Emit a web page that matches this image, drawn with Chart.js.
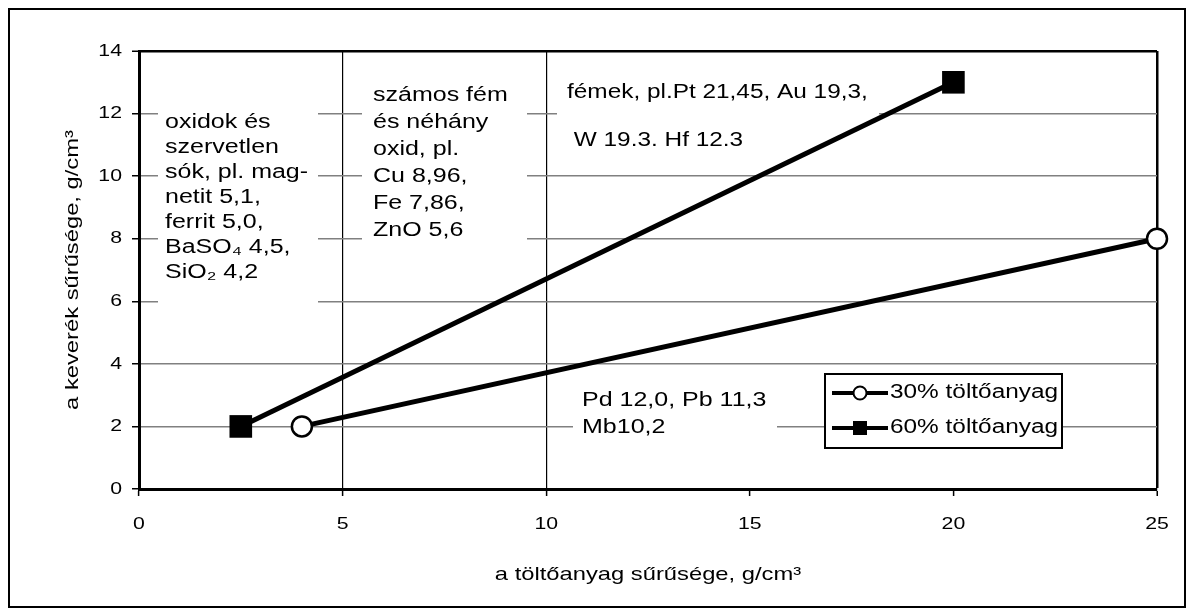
<!DOCTYPE html>
<html>
<head>
<meta charset="utf-8">
<script src="https://cdn.jsdelivr.net/npm/chart.js@4.4.1/dist/chart.umd.min.js"></script>
<style>
    body { margin: 0; background: #fff; }
    canvas { display: block; }
</style>
</head>
<body>
<canvas id="myChart" width="1192" height="616"></canvas>
<script>
/*********************** Data ************************/
var seriesNames = ['30% töltőanyag', '60% töltőanyag'];
var filler30X = [4, 25];
var filler30Y = [2, 8];
var filler60X = [2.5, 20];
var filler60Y = [2, 13];
var xTitle = 'a töltőanyag sűrűsége, g/cm³';
var yTitle = 'a keverék sűrűsége, g/cm³';
var noteOxides = ['oxidok és', 'szervetlen', 'sók, pl. mag-', 'netit 5,1,', 'ferrit 5,0,', 'BaSO₄ 4,5,', 'SiO₂ 4,2'];
var noteMetalOxides = ['számos fém', 'és néhány', 'oxid, pl.', 'Cu 8,96,', 'Fe 7,86,', 'ZnO 5,6'];
var noteMetals = ['fémek, pl.Pt 21,45, Au 19,3,', ' W 19.3. Hf 12.3'];
var notePd = ['Pd 12,0, Pb 11,3', 'Mb10,2'];

function toPoints(xs, ys) {
    return xs.map(function (x, i) { return { x: x, y: ys[i] }; });
}

/*********************** Canvas ************************/
var canvas = document.getElementById('myChart');
var ctx = canvas.getContext('2d');

// the original text is set in a wider face, so stretch every label a bit
var textStretch = 1.25;
var plainFillText = ctx.fillText;
ctx.fillText = function (text, x, y, maxWidth) {
    this.save();
    this.translate(x, y);
    this.scale(textStretch, 1);
    if (maxWidth !== undefined) {
        plainFillText.call(this, text, 0, 0, maxWidth / textStretch);
    } else {
        plainFillText.call(this, text, 0, 0);
    }
    this.restore();
};

var FONT = 'Liberation Sans, Arial, sans-serif';

// white boxes behind the notes, then the notes and the legend
var notes = [
    { lines: noteOxides, box: [158, 100, 160, 208], x: 165, y: 122, step: 25, size: 20 },
    { lines: noteMetalOxides, box: [362, 80, 165, 172], x: 373, y: 95, step: 27, size: 20 },
    { lines: noteMetals, box: [557, 78, 322, 82], x: 567, y: 93, step: 48, size: 19.5 },
    { lines: notePd, box: [573, 385, 204, 60], x: 582, y: 400, step: 27, size: 20 }
];

var notesPlugin = {
    id: 'notes',
    beforeDraw: function (chart) {
        var c = chart.ctx;
        c.save();
        c.fillStyle = '#fff';
        c.fillRect(0, 0, chart.width, chart.height);
        c.restore();
    },
    beforeDatasetsDraw: function (chart) {
        var c = chart.ctx;
        c.save();
        c.fillStyle = '#fff';
        notes.forEach(function (n) {
            c.fillRect(n.box[0], n.box[1], n.box[2], n.box[3]);
        });
        c.restore();
    },
    afterDatasetsDraw: function (chart) {
        var c = chart.ctx;
        c.save();
        c.fillStyle = '#000';
        c.textAlign = 'left';
        c.textBaseline = 'middle';
        notes.forEach(function (n) {
            c.font = n.size + 'px ' + FONT;
            n.lines.forEach(function (line, i) {
                c.fillText(line, n.x, n.y + i * n.step);
            });
        });
        c.restore();
    },
    afterDraw: function (chart) {
        var c = chart.ctx;
        c.save();

        // legend
        var lx = 825, ly = 374, lw = 237, lh = 74;
        c.fillStyle = '#fff';
        c.fillRect(lx, ly, lw, lh);
        c.strokeStyle = '#000';
        c.lineWidth = 2;
        c.strokeRect(lx, ly, lw, lh);
        var rows = [393, 428];
        chart.data.datasets.forEach(function (ds, i) {
            var y = rows[i];
            c.strokeStyle = ds.borderColor;
            c.lineWidth = 4;
            c.beginPath();
            c.moveTo(832, y);
            c.lineTo(888, y);
            c.stroke();
            if (ds.pointStyle === 'rect') {
                c.fillStyle = ds.pointBackgroundColor;
                c.fillRect(853, y - 7, 14, 14);
            } else {
                c.beginPath();
                c.arc(860, y, 6.5, 0, Math.PI * 2);
                c.fillStyle = ds.pointBackgroundColor;
                c.fill();
                c.lineWidth = 2;
                c.stroke();
            }
            c.fillStyle = '#000';
            c.font = '19.5px ' + FONT;
            c.textAlign = 'left';
            c.textBaseline = 'middle';
            c.fillText(ds.label, 890, y);
        });

        // outer frame
        c.strokeStyle = '#000';
        c.lineWidth = 2;
        c.strokeRect(9, 9, 1176, 598);
        c.restore();
    }
};

/*********************** Chart ************************/
var mixData = {
    datasets: [{
        label: seriesNames[0],
        data: toPoints(filler30X, filler30Y),
        showLine: true,
        borderColor: '#000',
        borderWidth: 5,
        pointStyle: 'circle',
        pointRadius: 10,
        pointHoverRadius: 10,
        pointBorderWidth: 2.5,
        pointBorderColor: '#000',
        pointBackgroundColor: '#fff',
        clip: false
    }, {
        label: seriesNames[1],
        data: toPoints(filler60X, filler60Y),
        showLine: true,
        borderColor: '#000',
        borderWidth: 5,
        pointStyle: 'rect',
        pointRadius: 16,
        pointHoverRadius: 16,
        pointBorderWidth: 0,
        pointBorderColor: '#000',
        pointBackgroundColor: '#000',
        clip: false
    }]
};

var myChart = new Chart(ctx, {
    type: 'scatter',
    data: mixData,
    plugins: [notesPlugin],
    options: {
        responsive: false,
        animation: false,
        events: [],
        layout: { padding: { left: 0, top: 51, right: 35, bottom: 0 } },
        plugins: {
            legend: { display: false },
            tooltip: { enabled: false }
        },
        scales: {
            x: {
                type: 'linear',
                min: 0,
                max: 25,
                ticks: {
                    stepSize: 5,
                    color: '#000',
                    padding: 18,
                    font: { family: FONT, size: 17 }
                },
                grid: {
                    color: function (c) {
                        var v = c.tick ? c.tick.value : null;
                        return (v === 5 || v === 10 || v === 25) ? '#000' : 'rgba(0,0,0,0)';
                    },
                    lineWidth: function (c) {
                        return c.tick && c.tick.value === 25 ? 2.5 : 1.2;
                    },
                    tickColor: '#000',
                    tickLength: 7,
                    tickWidth: 1.5
                },
                border: { color: '#000', width: 3 },
                title: {
                    display: true,
                    text: xTitle,
                    color: '#000',
                    padding: { top: 0, bottom: 30 },
                    font: { family: FONT, size: 19 }
                },
                afterFit: function (scale) { scale.height = 127; }
            },
            y: {
                type: 'linear',
                min: 0,
                max: 14,
                ticks: {
                    stepSize: 2,
                    color: '#000',
                    padding: 10,
                    font: { family: FONT, size: 17 }
                },
                grid: {
                    color: function (c) {
                        var v = c.tick ? c.tick.value : null;
                        if (v === 14) return '#000';
                        if (v === 0) return 'rgba(0,0,0,0)';
                        return '#808080';
                    },
                    lineWidth: function (c) {
                        return c.tick && c.tick.value === 14 ? 2.5 : 1.5;
                    },
                    tickColor: '#000',
                    tickLength: 7,
                    tickWidth: 1.5
                },
                border: { color: '#000', width: 3 },
                title: {
                    display: true,
                    text: yTitle,
                    color: '#000',
                    padding: { top: 61, bottom: 0 },
                    font: { family: FONT, size: 19 }
                },
                afterFit: function (scale) { scale.width = 139; }
            }
        }
    }
});
</script>
</body>
</html>
